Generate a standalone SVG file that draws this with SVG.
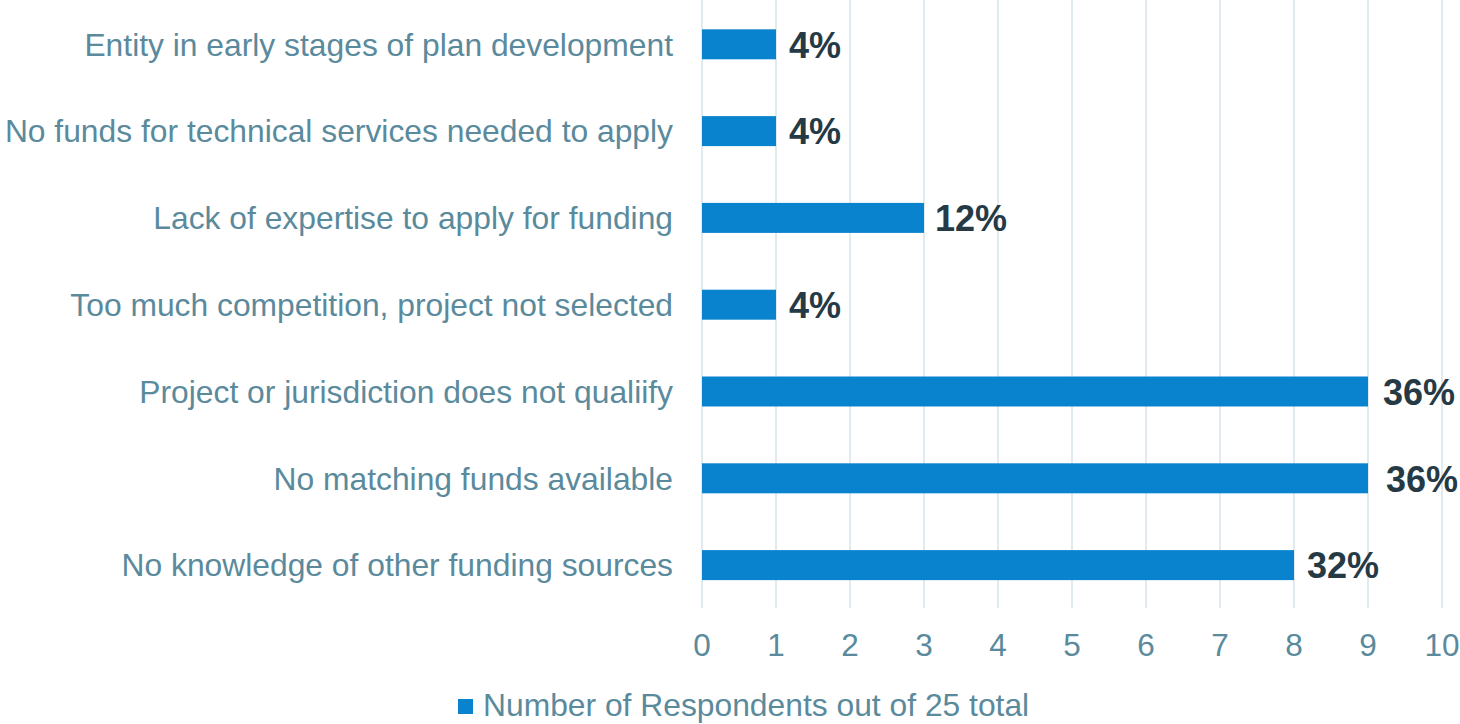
<svg xmlns="http://www.w3.org/2000/svg" width="1460" height="724" viewBox="0 0 1460 724">
<style>
.grid{stroke:#d6e3ea;stroke-width:1.5}
.bar{fill:#0a83cf}
.cat{font-family:"Liberation Sans",Arial,sans-serif;font-size:31.8px;fill:#5a8a9c;text-anchor:end}
.val{font-family:"Liberation Sans",Arial,sans-serif;font-size:36px;font-weight:bold;fill:#263a45}
.tick{font-family:"Liberation Sans",Arial,sans-serif;font-size:31.5px;fill:#5a8a9c;text-anchor:middle}
.leg{font-family:"Liberation Sans",Arial,sans-serif;font-size:31.8px;fill:#5a8a9c}
</style>
<rect width="1460" height="724" fill="#ffffff"/>
<g id="gridlines">
<line class="grid" x1="702" y1="0" x2="702" y2="608"/>
<line class="grid" x1="776" y1="0" x2="776" y2="608"/>
<line class="grid" x1="850" y1="0" x2="850" y2="608"/>
<line class="grid" x1="924" y1="0" x2="924" y2="608"/>
<line class="grid" x1="998" y1="0" x2="998" y2="608"/>
<line class="grid" x1="1072" y1="0" x2="1072" y2="608"/>
<line class="grid" x1="1146" y1="0" x2="1146" y2="608"/>
<line class="grid" x1="1220" y1="0" x2="1220" y2="608"/>
<line class="grid" x1="1294" y1="0" x2="1294" y2="608"/>
<line class="grid" x1="1368" y1="0" x2="1368" y2="608"/>
<line class="grid" x1="1442" y1="0" x2="1442" y2="608"/>
</g>
<g id="axis-labels">
<text class="tick" x="702" y="656">0</text>
<text class="tick" x="776" y="656">1</text>
<text class="tick" x="850" y="656">2</text>
<text class="tick" x="924" y="656">3</text>
<text class="tick" x="998" y="656">4</text>
<text class="tick" x="1072" y="656">5</text>
<text class="tick" x="1146" y="656">6</text>
<text class="tick" x="1220" y="656">7</text>
<text class="tick" x="1294" y="656">8</text>
<text class="tick" x="1368" y="656">9</text>
<text class="tick" x="1442" y="656">10</text>
</g>
<g id="row1">
<text class="cat" x="673" y="55.5">Entity in early stages of plan development</text>
<rect class="bar" x="702" y="29.3" width="74" height="30"/>
<text class="val" x="789" y="57.5">4%</text>
</g>
<g id="row2">
<text class="cat" x="673" y="142.3">No funds for technical services needed to apply</text>
<rect class="bar" x="702" y="116.1" width="74" height="30"/>
<text class="val" x="789" y="144.3">4%</text>
</g>
<g id="row3">
<text class="cat" x="673" y="229.1">Lack of expertise to apply for funding</text>
<rect class="bar" x="702" y="202.9" width="222" height="30"/>
<text class="val" x="935" y="231.1">12%</text>
</g>
<g id="row4">
<text class="cat" x="673" y="315.9">Too much competition, project not selected</text>
<rect class="bar" x="702" y="289.7" width="74" height="30"/>
<text class="val" x="789" y="317.9">4%</text>
</g>
<g id="row5">
<text class="cat" x="673" y="402.7">Project or jurisdiction does not qualiify</text>
<rect class="bar" x="702" y="376.5" width="666" height="30"/>
<text class="val" x="1383" y="404.7">36%</text>
</g>
<g id="row6">
<text class="cat" x="673" y="489.5">No matching funds available</text>
<rect class="bar" x="702" y="463.3" width="666" height="30"/>
<text class="val" x="1386" y="491.5">36%</text>
</g>
<g id="row7">
<text class="cat" x="673" y="576.3">No knowledge of other funding sources</text>
<rect class="bar" x="702" y="550.1" width="592" height="30"/>
<text class="val" x="1307" y="578.3">32%</text>
</g>
<g id="legend">
<rect class="bar" x="458" y="699" width="15" height="15"/>
<text class="leg" x="483" y="716">Number of Respondents out of 25 total</text>
</g>
</svg>
